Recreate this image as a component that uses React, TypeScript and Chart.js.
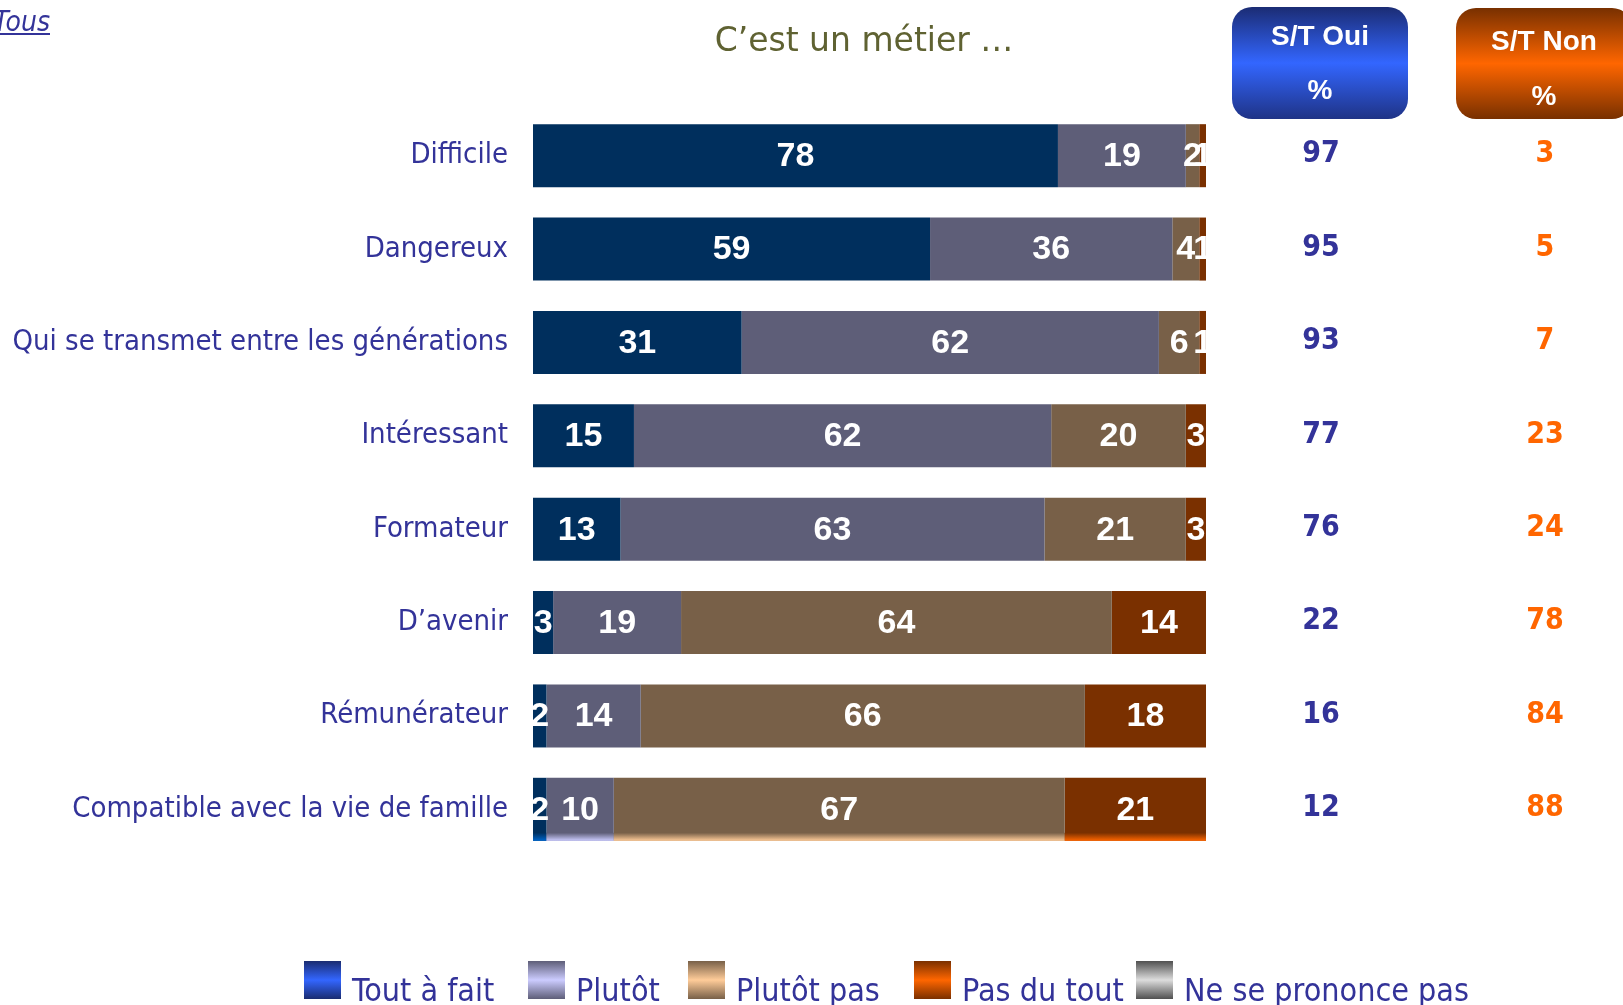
import React, { useEffect, useRef } from "react";
import { Chart, registerables } from "chart.js";
Chart.register(...registerables);

const categories = [
  "Difficile",
  "Dangereux",
  "Qui se transmet entre les générations",
  "Intéressant",
  "Formateur",
  "D’avenir",
  "Rémunérateur",
  "Compatible avec la vie de famille",
];
const toutAFait = [78, 59, 31, 15, 13, 3, 2, 2];
const plutot = [19, 36, 62, 62, 63, 19, 14, 10];
const plutotPas = [2, 4, 6, 20, 21, 64, 66, 67];
const pasDuTout = [1, 1, 1, 3, 3, 14, 18, 21];
const nsp = [0, 0, 0, 0, 0, 0, 0, 0];
const stOui = [97, 95, 93, 77, 76, 22, 16, 12];
const stNon = [3, 5, 7, 23, 24, 78, 84, 88];
const seriesNames = ["Tout à fait", "Plutôt", "Plutôt pas", "Pas du tout", "Ne se prononce pas"];
const titleText = "C’est un métier …";
const filterText = "Tous";

const barColors = ["#002F5D", "#5E5E78", "#786048", "#7A3000", "#808080"];
const swatchStops = [
  ["#1a2c70", "#3366ff", "#1a2c70"],
  ["#5e5e78", "#ccccff", "#5e5e78"],
  ["#786048", "#ffcc99", "#786048"],
  ["#7a3000", "#ff6600", "#7a3000"],
  ["#505050", "#dddddd", "#505050"],
];
const fadeColors = ["#0066cc", "#ccccff", "#ffcc99", "#ff6600", "#dddddd"];
const LABEL_FONT = "'DejaVu Sans Condensed', 'DejaVu Sans', sans-serif";
const TITLE_FONT = "'DejaVu Sans', sans-serif";
const NUM_FONT = "'Liberation Sans', Arial, sans-serif";
const INK = "#333399";

function vGrad(ctx: CanvasRenderingContext2D, y0: number, y1: number, stops: string[]) {
  const g = ctx.createLinearGradient(0, y0, 0, y1);
  g.addColorStop(0, stops[0]);
  g.addColorStop(0.5, stops[1]);
  g.addColorStop(1, stops[2]);
  return g;
}

const overlayPlugin = {
  id: "overlay",
  afterDatasetsDraw(chart: any) {
    const ctx: CanvasRenderingContext2D = chart.ctx;
    const area = chart.chartArea;
    const last = categories.length - 1;

    // fade strip at the bottom of the last bar
    ctx.save();
    chart.data.datasets.forEach((ds: any, di: number) => {
      const bar = chart.getDatasetMeta(di).data[last];
      if (!bar || !ds.data[last]) return;
      const p = bar.getProps(["x", "base", "y", "height"], true);
      const bottom = p.y + p.height / 2;
      const g = ctx.createLinearGradient(0, bottom - 8, 0, bottom);
      g.addColorStop(0, barColors[di]);
      g.addColorStop(1, fadeColors[di]);
      ctx.fillStyle = g;
      ctx.fillRect(Math.min(p.x, p.base), bottom - 8, Math.abs(p.x - p.base), 8);
    });
    ctx.restore();

    // segment labels
    ctx.save();
    ctx.beginPath();
    ctx.rect(area.left, area.top, area.right - area.left, area.bottom - area.top);
    ctx.clip();
    ctx.font = `bold 34px ${NUM_FONT}`;
    ctx.fillStyle = "#ffffff";
    ctx.textAlign = "center";
    ctx.textBaseline = "middle";
    chart.data.datasets.forEach((ds: any, di: number) => {
      const meta = chart.getDatasetMeta(di);
      meta.data.forEach((bar: any, i: number) => {
        const v = ds.data[i];
        if (!v) return;
        const p = bar.getProps(["x", "base", "y"], true);
        ctx.fillText(String(v), (p.x + p.base) / 2, p.y + 1);
      });
    });
    ctx.restore();

    const yScale = chart.scales.y;
    ctx.save();
    // S/T columns values
    ctx.font = `bold 30px ${LABEL_FONT}`;
    ctx.textAlign = "center";
    ctx.textBaseline = "middle";
    categories.forEach((_, i) => {
      const y = yScale.getPixelForValue(i) - 1;
      ctx.fillStyle = INK;
      ctx.fillText(String(stOui[i]), 1321, y);
      ctx.fillStyle = "#FF6600";
      ctx.fillText(String(stNon[i]), 1545, y);
    });

    // header boxes
    const boxes = [
      { x: 1232, y: 7, w: 176, h: 112, stops: ["#1b2c74", "#3366ff", "#1f3386"], label: "S/T Oui", ty: 37, py: 91, cx: 1320 },
      { x: 1456, y: 8, w: 176, h: 111, stops: ["#783000", "#ff6600", "#783000"], label: "S/T Non", ty: 42, py: 97, cx: 1544 },
    ];
    boxes.forEach((b) => {
      ctx.fillStyle = vGrad(ctx, b.y, b.y + b.h, b.stops);
      ctx.beginPath();
      (ctx as any).roundRect(b.x, b.y, b.w, b.h, 20);
      ctx.fill();
      ctx.fillStyle = "#ffffff";
      ctx.font = `bold 28px ${NUM_FONT}`;
      ctx.fillText(b.label, b.cx, b.ty);
      ctx.fillText("%", b.cx, b.py);
    });

    // title
    ctx.font = `33px ${TITLE_FONT}`;
    ctx.fillStyle = "#5F6232";
    ctx.textBaseline = "alphabetic";
    ctx.fillText(titleText, 864, 51);

    // filter link
    ctx.font = `italic 28px ${LABEL_FONT}`;
    ctx.fillStyle = INK;
    ctx.textAlign = "right";
    ctx.fillText(filterText, 50, 31);
    const tw = ctx.measureText(filterText).width;
    ctx.fillRect(50 - tw, 33, tw, 2);

    // legend
    const swX = [304, 528, 688, 914, 1136];
    ctx.font = `32px ${LABEL_FONT}`;
    ctx.textAlign = "left";
    seriesNames.forEach((name, i) => {
      ctx.fillStyle = vGrad(ctx, 961, 999, swatchStops[i]);
      ctx.fillRect(swX[i], 961, 37, 38);
      ctx.fillStyle = INK;
      ctx.fillText(name, swX[i] + 48, 1001);
    });
    ctx.restore();
  },
};

export default function App() {
  const ref = useRef<HTMLCanvasElement | null>(null);
  useEffect(() => {
    if (!ref.current) return;
    const chart = new Chart(ref.current, {
      type: "bar",
      data: {
        labels: categories,
        datasets: [toutAFait, plutot, plutotPas, pasDuTout, nsp].map((d, i) => ({
          label: seriesNames[i],
          data: d,
          backgroundColor: barColors[i],
          borderWidth: 0,
          barPercentage: 1,
          categoryPercentage: 0.675,
        })),
      },
      options: {
        indexAxis: "y",
        responsive: false,
        animation: false,
        devicePixelRatio: 1,
        layout: { padding: { left: 0, right: 417, top: 109, bottom: 149 } },
        plugins: { legend: { display: false }, tooltip: { enabled: false }, title: { display: false } },
        scales: {
          x: { stacked: true, min: 0, max: 100, display: false },
          y: {
            stacked: true,
            grid: { display: false, drawTicks: false },
            border: { display: false },
            afterFit: (s: any) => {
              s.width = 533;
            },
            ticks: {
              padding: 25,
              color: INK,
              font: { family: LABEL_FONT, size: 29 },
            },
          },
        },
      },
      plugins: [overlayPlugin],
    } as any);
    return () => chart.destroy();
  }, []);
  return (
    <div style={{ position: "fixed", left: 0, top: 0, width: 1623, height: 1005, background: "#fff", overflow: "hidden" }}>
      <canvas ref={ref} width={1623} height={1005} style={{ width: 1623, height: 1005, display: "block" }} />
    </div>
  );
}
